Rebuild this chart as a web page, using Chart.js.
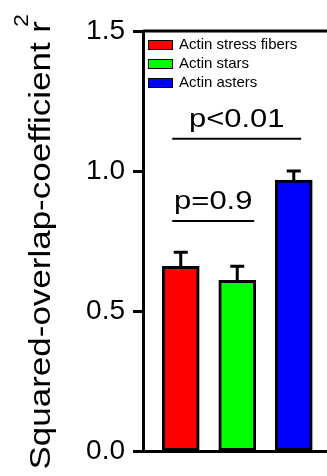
<!DOCTYPE html>
<html lang="en">
<head>
    <meta charset="UTF-8">
    <title>Squared overlap coefficient</title>
    <script src="https://cdn.jsdelivr.net/npm/chart.js"></script>
    <style>
        body {
            margin: 0;
            background: #fff;
        }
        canvas {
            display: block;
        }
    </style>
</head>
<body>
    <canvas id="overlapChart" width="327" height="476"></canvas>

    <script>
        // data
        var categories = ['Actin stress fibers', 'Actin stars', 'Actin asters'];
        var positions = [1, 2, 3];
        var values = [0.66, 0.61, 0.968];
        var errors = [0.05, 0.05, 0.032];
        var barColors = ['#ff0000', '#00ff00', '#0000ff'];
        var yTicks = [0, 0.5, 1.0, 1.5];

        // significance brackets (x in category units, y in data units)
        var sigLabels = ['p=0.9', 'p<0.01'];
        var sigLevels = [0.822, 1.115];
        var sigFrom = [0.85, 0.85];
        var sigTo = [2.3, 3.13];

        var yTitle = 'Squared-overlap-coefficient r';
        var yTitleSup = '2';

        var FONT = "'Liberation Sans', Arial, sans-serif";

        var extras = {
            id: 'extras',
            afterDatasetsDraw: function (chart) {
                var ctx = chart.ctx;
                var xs = chart.scales.x;
                var ys = chart.scales.y;
                var area = chart.chartArea;
                var meta = chart.getDatasetMeta(0);
                ctx.save();
                ctx.strokeStyle = '#000';
                ctx.fillStyle = '#000';

                // error bars (upper only)
                ctx.lineWidth = 3;
                meta.data.forEach(function (bar, i) {
                    var top = ys.getPixelForValue(values[i] + errors[i]);
                    ctx.beginPath();
                    ctx.moveTo(bar.x, bar.y);
                    ctx.lineTo(bar.x, top);
                    ctx.moveTo(bar.x - 7, top);
                    ctx.lineTo(bar.x + 7, top);
                    ctx.stroke();
                });

                // top frame line
                ctx.beginPath();
                ctx.moveTo(area.left, area.top);
                ctx.lineTo(area.right, area.top);
                ctx.stroke();

                // legend in the upper left of the plot
                ctx.lineWidth = 1;
                ctx.font = '15px ' + FONT;
                ctx.textAlign = 'left';
                ctx.textBaseline = 'middle';
                categories.forEach(function (c, i) {
                    var y = area.top + 9 + i * 19;
                    ctx.fillStyle = barColors[i];
                    ctx.fillRect(148.5, y + 0.5, 24, 9);
                    ctx.strokeRect(148.5, y + 0.5, 24, 9);
                    ctx.fillStyle = '#000';
                    ctx.fillText(c, 179, y + 5);
                });

                // significance lines + labels
                ctx.lineWidth = 2;
                ctx.font = '26px ' + FONT;
                ctx.textAlign = 'center';
                ctx.textBaseline = 'alphabetic';
                sigLabels.forEach(function (lab, i) {
                    var y = ys.getPixelForValue(sigLevels[i]);
                    var x1 = xs.getPixelForValue(sigFrom[i]);
                    var x2 = xs.getPixelForValue(sigTo[i]);
                    ctx.beginPath();
                    ctx.moveTo(x1, y);
                    ctx.lineTo(x2, y);
                    ctx.stroke();
                    ctx.save();
                    ctx.translate((x1 + x2) / 2, y - 11.5);
                    ctx.scale(1.19, 1);
                    ctx.fillText(lab, 0, 0);
                    ctx.restore();
                });

                // y axis title, ends just under the top edge; superscript tucked after the r
                var sx = 1.166;
                ctx.translate(50, 21);
                ctx.rotate(-Math.PI / 2);
                ctx.scale(sx, 1);
                ctx.font = '30px ' + FONT;
                ctx.textAlign = 'right';
                ctx.fillText(yTitle, 0, 0);
                ctx.font = '20px ' + FONT;
                ctx.textAlign = 'left';
                ctx.fillText(yTitleSup, -6 / sx, -22);
                ctx.restore();
            }
        };

        var ctx = document.getElementById('overlapChart').getContext('2d');
        var overlapChart = new Chart(ctx, {
            type: 'bar',
            data: {
                datasets: [{
                    data: values.map(function (v, i) { return { x: positions[i], y: v }; }),
                    backgroundColor: barColors,
                    borderColor: '#000',
                    borderWidth: 3,
                    borderSkipped: false,
                    barThickness: 37
                }]
            },
            options: {
                responsive: false,
                animation: false,
                layout: {
                    padding: { left: 0, right: 0, top: 31, bottom: 23 }
                },
                plugins: {
                    tooltip: { enabled: false },
                    legend: { display: false }
                },
                scales: {
                    x: {
                        type: 'linear',
                        offset: false,
                        min: 0.332,
                        max: 3.588,
                        ticks: { display: false },
                        grid: { display: false, offset: false },
                        border: { display: true, color: '#000', width: 3 },
                        afterFit: function (s) { s.height = 0; }
                    },
                    y: {
                        min: 0,
                        max: 1.5,
                        afterFit: function (s) { s.width = 143; },
                        afterBuildTicks: function (s) {
                            s.ticks = yTicks.map(function (v) { return { value: v }; });
                        },
                        ticks: {
                            color: '#000',
                            padding: 8,
                            font: { family: FONT, size: 28 },
                            callback: function (v) { return v.toFixed(1); }
                        },
                        grid: {
                            drawOnChartArea: false,
                            drawTicks: true,
                            tickLength: 10,
                            tickColor: '#000',
                            tickWidth: 3
                        },
                        border: { display: true, color: '#000', width: 3 }
                    }
                }
            },
            plugins: [extras]
        });
    </script>
</body>
</html>
